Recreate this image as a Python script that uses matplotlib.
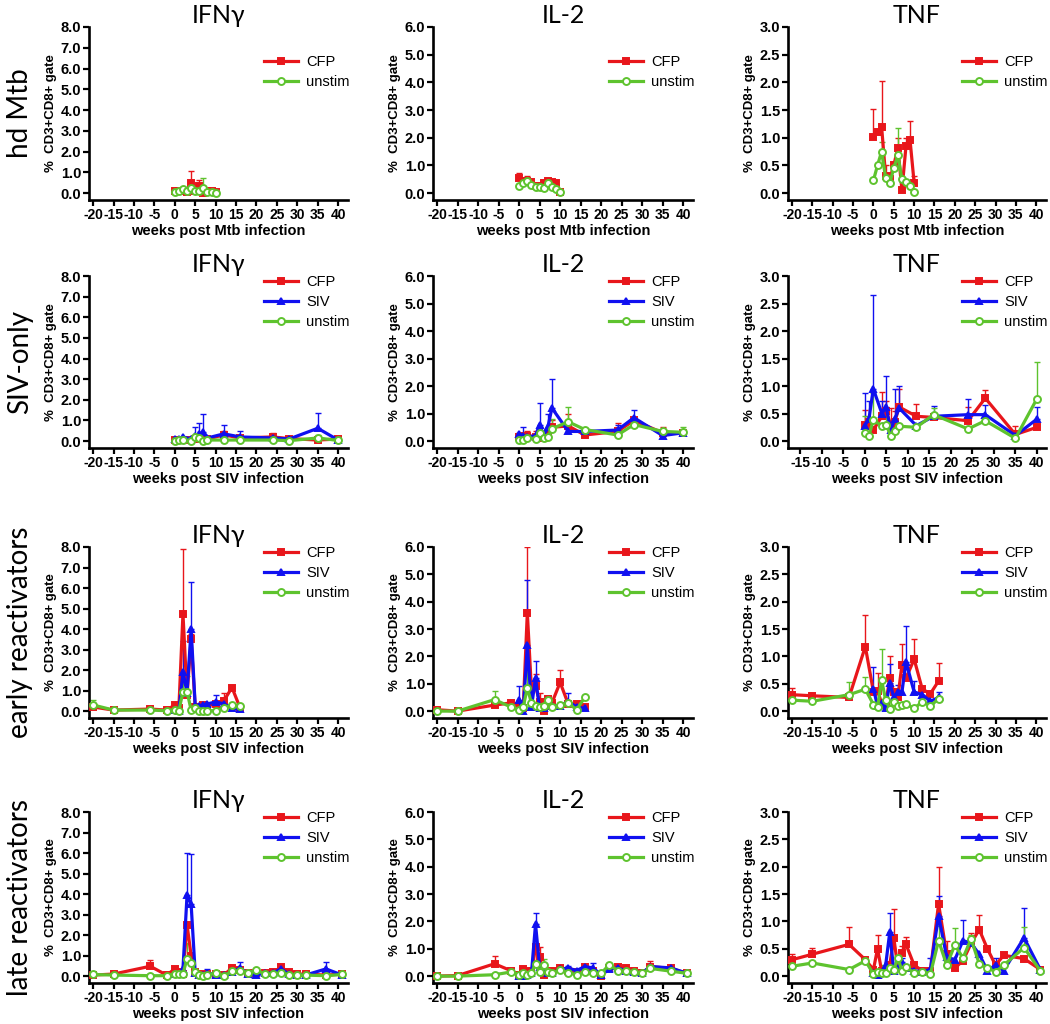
import numpy as np
import matplotlib
matplotlib.use('Agg')
import matplotlib.pyplot as plt

# ---- data ----
wk_mtb = [0, 1, 2, 3, 4, 5, 6, 7, 8, 9, 10]
wk_siv = [0, 1, 2, 4, 5, 6, 7, 8, 12, 16, 24, 28, 35, 40]
wk_early = [-20, -15, -6, -2, 0, 1, 2, 3, 4, 5, 6, 7, 8, 10, 12, 14, 16]
wk_early_siv = wk_early[4:]
wk_late = [-20, -15, -6, -2, 0, 1, 2, 3, 4, 5, 6, 7, 8, 10, 12, 14, 16, 18, 20,
           22, 24, 26, 28, 30, 32, 37, 41]
wk_late_siv = wk_late[4:]

# hd Mtb
hd_ifng_cfp = [0.1, 0.1, 0.1, 0.05, 0.5, 0.1, 0.35, 0.0, 0.1, 0.1, 0.05]
hd_ifng_cfp_sem = [0.05, 0, 0.05, 0, 0.55, 0, 0.3, 0, 0.05, 0, 0]
hd_ifng_uns = [0.03, 0.08, 0.2, 0.08, 0.25, 0.1, 0.1, 0.25, 0.05, 0.05, 0.02]
hd_ifng_uns_sem = [0, 0, 0, 0, 0, 0, 0.1, 0.47, 0, 0, 0]
hd_il2_cfp = [0.55, 0.45, 0.45, 0.4, 0.25, 0.25, 0.35, 0.45, 0.4, 0.38, 0.05]
hd_il2_cfp_sem = [0.17, 0, 0.15, 0, 0, 0, 0, 0, 0, 0, 0]
hd_il2_uns = [0.25, 0.35, 0.45, 0.3, 0.22, 0.22, 0.18, 0.35, 0.2, 0.15, 0.02]
hd_il2_uns_sem = [0, 0, 0.1, 0, 0, 0, 0, 0.2, 0, 0, 0]
hd_tnf_cfp = [1.02, 1.1, 1.2, 0.3, 0.25, 0.5, 0.82, 0.05, 0.85, 0.95, 0.18]
hd_tnf_cfp_sem = [0.5, 0, 0.82, 0.2, 0, 0, 0.18, 0, 0.15, 0.35, 0.12]
hd_tnf_uns = [0.23, 0.5, 0.75, 0.27, 0.18, 0.45, 0.68, 0.25, 0.2, 0.12, 0.02]
hd_tnf_uns_sem = [0, 0, 0.17, 0, 0, 0, 0.5, 0, 0, 0, 0]

# SIV-only
so_ifng_cfp = [0.05, 0.05, 0.05, 0.05, 0.1, 0.1, 0.1, 0.1, 0.3, 0.15, 0.2, 0.12, 0.05, 0.1]
so_ifng_cfp_sem = [0.13, 0, 0.1, 0, 0, 0, 0, 0, 0.2, 0, 0.18, 0.08, 0, 0.08]
so_ifng_siv = [0.1, 0.1, 0.2, 0.1, 0.25, 0.35, 0.45, 0.15, 0.35, 0.2, 0.15, 0.1, 0.62, 0.05]
so_ifng_siv_sem = [0, 0, 0, 0, 0.45, 0.53, 0.85, 0, 0.43, 0.28, 0, 0, 0.76, 0]
so_ifng_uns = [0.02, 0.05, 0.03, 0.0, 0.2, 0.15, 0.02, 0.05, 0.05, 0.05, 0.05, 0.02, 0.15, 0.03]
so_ifng_uns_sem = [0, 0, 0, 0, 0, 0, 0, 0, 0, 0, 0, 0, 0.15, 0]
so_il2_cfp = [0.15, 0.2, 0.2, 0.15, 0.1, 0.1, 0.3, 0.5, 0.55, 0.22, 0.35, 0.75, 0.3, 0.28]
so_il2_cfp_sem = [0.15, 0, 0.15, 0.2, 0, 0, 0, 0.25, 0.42, 0, 0.3, 0, 0.2, 0]
so_il2_siv = [0.25, 0.2, 0.15, 0.2, 0.6, 0.2, 0.5, 1.2, 0.35, 0.35, 0.4, 0.85, 0.2, 0.3]
so_il2_siv_sem = [0.05, 0.32, 0, 0, 0.8, 0, 0.5, 1.05, 0, 0, 0.2, 0.27, 0, 0]
so_il2_uns = [0.05, 0.05, 0.12, 0.08, 0.3, 0.1, 0.15, 0.45, 0.7, 0.42, 0.22, 0.6, 0.35, 0.32]
so_il2_uns_sem = [0, 0, 0, 0, 0.2, 0, 0, 0.35, 0.55, 0, 0, 0, 0, 0.18]
so_tnf_cfp = [0.3, 0.35, 0.2, 0.45, 0.55, 0.3, 0.35, 0.62, 0.45, 0.43, 0.37, 0.78, 0.12, 0.25]
so_tnf_cfp_sem = [0.27, 0, 0, 0.45, 0.17, 0.3, 0.2, 0.33, 0.23, 0, 0.25, 0.15, 0.16, 0]
so_tnf_siv = [0.28, 0.4, 0.95, 0.5, 0.62, 0.2, 0.4, 0.6, 0.28, 0.45, 0.48, 0.48, 0.1, 0.4]
so_tnf_siv_sem = [0.59, 0.32, 1.7, 0.22, 0.56, 0, 0.55, 0.4, 0, 0.18, 0.28, 0.18, 0, 0.22]
so_tnf_uns = [0.15, 0.1, 0.38, 0.28, 0.3, 0.1, 0.18, 0.27, 0.25, 0.48, 0.22, 0.37, 0.05, 0.77]
so_tnf_uns_sem = [0.3, 0, 0.5, 0, 0.25, 0, 0, 0, 0, 0.12, 0, 0, 0, 0.66]

# early reactivators
er_ifng_cfp = [0.2, 0.05, 0.1, 0.05, 0.3, 0.15, 4.75, 0.8, 3.5, 0.2, 0.2, 0.3, 0.25, 0.35, 0.5, 1.15, 0.15]
er_ifng_cfp_sem = [0, 0, 0, 0, 0, 0, 3.15, 0, 0.25, 0, 0, 0, 0, 0, 0.4, 0, 0]
er_ifng_siv = [0.05, 0.0, 1.9, 0.9, 4.0, 0.25, 0.25, 0.3, 0.35, 0.45, 0.35, 0.15, 0.1]
er_ifng_siv_sem = [0, 0, 1.5, 0, 2.3, 0, 0, 0, 0, 0.35, 0.3, 0, 0]
er_ifng_uns = [0.3, 0.05, 0.05, 0.02, 0.05, 0.02, 0.95, 0.95, 0.05, 0.15, 0.02, 0.02, 0.02, 0.02, 0.15, 0.3, 0.25]
er_ifng_uns_sem = [0.25, 0, 0, 0, 0, 0, 0.4, 0.75, 0, 0, 0, 0, 0, 0, 0, 0, 0]
er_il2_cfp = [0.05, 0.0, 0.22, 0.3, 0.2, 0.1, 3.6, 0.8, 0.9, 0.35, 0.0, 0.45, 0.3, 1.05, 0.25, 0.25, 0.15]
er_il2_cfp_sem = [0, 0, 0, 0, 0, 0, 2.4, 0, 0.45, 0.33, 0, 0, 0, 0.45, 0, 0, 0]
er_il2_siv = [0.4, 0.0, 2.4, 0.15, 1.2, 0.1, 0.1, 0.4, 0.2, 0.2, 0.35, 0.15, 0.1]
er_il2_siv_sem = [0.5, 0, 2.4, 0, 0.65, 0, 0, 0, 0, 0, 0.3, 0, 0]
er_il2_uns = [0.0, 0.0, 0.42, 0.15, 0.05, 0.15, 0.85, 0.3, 0.2, 0.15, 0.2, 0.4, 0.15, 0.22, 0.3, 0.05, 0.5]
er_il2_uns_sem = [0, 0, 0.33, 0, 0, 0, 0.7, 0, 0, 0, 0, 0.1, 0, 0, 0, 0, 0]
er_tnf_cfp = [0.3, 0.28, 0.25, 1.18, 0.35, 0.37, 0.15, 0.12, 0.6, 0.35, 0.25, 0.85, 0.6, 0.95, 0.4, 0.32, 0.55]
er_tnf_cfp_sem = [0.13, 0.05, 0, 0.57, 0, 0.33, 0, 0, 0.4, 0, 0, 0.38, 0, 0.37, 0, 0, 0.33]
er_tnf_siv = [0.4, 0.1, 0.15, 0.05, 0.52, 0.25, 0.35, 0.35, 0.9, 0.35, 0.3, 0.18, 0.25]
er_tnf_siv_sem = [0.4, 0, 0, 0, 0.34, 0, 0.13, 0, 0.65, 0.2, 0.13, 0, 0.1]
er_tnf_uns = [0.2, 0.18, 0.3, 0.4, 0.12, 0.07, 0.57, 0.2, 0.04, 0.17, 0.1, 0.12, 0.13, 0.05, 0.17, 0.1, 0.22]
er_tnf_uns_sem = [0, 0, 0.23, 0.22, 0, 0, 0.56, 0, 0, 0, 0, 0, 0, 0, 0, 0, 0]

# late reactivators
lr_ifng_cfp = [0.05, 0.1, 0.48, 0.05, 0.35, 0.2, 0.1, 2.5, 1.0, 0.2, 0.1, 0.05, 0.1, 0.1,
               0.05, 0.4, 0.3, 0.15, 0.15, 0.15, 0.2, 0.42, 0.2, 0.1, 0.1, 0.05, 0.1]
lr_ifng_cfp_sem = [0, 0, 0.3, 0, 0, 0, 0, 0, 0, 0, 0, 0, 0, 0,
                   0, 0.15, 0, 0, 0, 0, 0, 0, 0, 0, 0, 0, 0]
lr_ifng_siv = [0.1, 0.1, 0.35, 3.95, 3.5, 0.15, 0.05, 0.05, 0.15, 0.05, 0.05, 0.2,
               0.4, 0.1, 0.05, 0.15, 0.15, 0.35, 0.1, 0.05, 0.05, 0.35, 0.05]
lr_ifng_siv_sem = [0, 0, 0, 2.05, 2.45, 0, 0, 0, 0.2, 0, 0, 0,
                   0.28, 0, 0, 0, 0, 0, 0, 0, 0, 0.35, 0]
lr_ifng_uns = [0.08, 0.05, 0.02, 0.02, 0.1, 0.1, 0.12, 0.85, 0.65, 0.2, 0.05, 0.02, 0.05, 0.15,
               0.0, 0.25, 0.25, 0.15, 0.3, 0.1, 0.1, 0.15, 0.05, 0.05, 0.05, 0.02, 0.08]
lr_ifng_uns_sem = [0, 0, 0, 0, 0, 0, 0, 0.75, 0.5, 0, 0, 0, 0, 0,
                   0, 0, 0, 0, 0, 0, 0, 0, 0, 0, 0, 0, 0]
lr_il2_cfp = [0.0, 0.02, 0.45, 0.2, 0.05, 0.25, 0.2, 0.1, 1.05, 0.7, 0.05, 0.1, 0.2, 0.3,
              0.2, 0.15, 0.35, 0.2, 0.0, 0.3, 0.35, 0.28, 0.2, 0.1, 0.35, 0.28, 0.1]
lr_il2_cfp_sem = [0, 0, 0.27, 0, 0, 0, 0, 0, 0, 0.38, 0, 0, 0, 0,
                  0, 0, 0, 0, 0, 0, 0, 0, 0, 0, 0.2, 0, 0]
lr_il2_siv = [0.0, 0.0, 0.05, 0.1, 1.9, 0.35, 0.3, 0.1, 0.1, 0.25, 0.3, 0.2,
              0.35, 0.3, 0.05, 0.25, 0.3, 0.2, 0.15, 0.12, 0.35, 0.3, 0.1]
lr_il2_siv_sem = [0, 0, 0, 0, 0.42, 0, 0, 0, 0, 0, 0.08, 0,
                  0, 0.18, 0, 0, 0, 0, 0, 0, 0, 0, 0]
lr_il2_uns = [0.0, 0.0, 0.05, 0.15, 0.05, 0.1, 0.05, 0.12, 0.45, 0.15, 0.42, 0.15, 0.1, 0.22,
              0.12, 0.05, 0.15, 0.1, 0.1, 0.42, 0.2, 0.18, 0.15, 0.1, 0.28, 0.18, 0.1]
lr_il2_uns_sem = [0, 0, 0, 0, 0, 0, 0, 0, 0.15, 0, 0.2, 0, 0, 0,
                  0, 0, 0, 0, 0, 0, 0, 0, 0, 0, 0, 0, 0]
lr_tnf_cfp = [0.3, 0.4, 0.58, 0.3, 0.12, 0.5, 0.1, 0.1, 0.2, 0.7, 0.15, 0.42, 0.58, 0.2,
              0.1, 0.1, 1.32, 0.4, 0.15, 0.28, 0.6, 0.85, 0.5, 0.2, 0.38, 0.32, 0.12]
lr_tnf_cfp_sem = [0.1, 0.12, 0.32, 0, 0, 0.25, 0, 0, 0, 0.53, 0, 0.13, 0.14, 0,
                  0, 0, 0.68, 0.25, 0, 0, 0.18, 0.27, 0, 0, 0, 0, 0]
lr_tnf_siv = [0.05, 0.02, 0.05, 0.2, 0.8, 0.1, 0.15, 0.25, 0.15, 0.1, 0.08, 0.12,
              1.1, 0.35, 0.3, 0.65, 0.6, 0.4, 0.1, 0.2, 0.1, 0.7, 0.12]
lr_tnf_siv_sem = [0, 0, 0, 0, 0.35, 0, 0, 0.08, 0, 0, 0, 0.21,
                  0.37, 0, 0, 0.37, 0, 0, 0, 0.13, 0, 0.55, 0]
lr_tnf_uns = [0.18, 0.24, 0.12, 0.28, 0.04, 0.07, 0.05, 0.06, 0.15, 0.12, 0.33, 0.1, 0.16, 0.06,
              0.08, 0.04, 0.65, 0.2, 0.57, 0.33, 0.68, 0.22, 0.15, 0.08, 0.2, 0.52, 0.1]
lr_tnf_uns_sem = [0, 0, 0, 0, 0, 0, 0.15, 0, 0, 0, 0, 0, 0, 0,
                  0, 0, 0.27, 0, 0.31, 0, 0.07, 0, 0, 0, 0, 0.38, 0]

row_names = ['hd Mtb', 'SIV-only', 'early reactivators', 'late reactivators']
col_titles = ['IFN\u03b3', 'IL-2', 'TNF']
col_ymax = [8.0, 6.0, 3.0]
col_ystep = [1.0, 1.0, 0.5]
xlabels = ['weeks post Mtb infection', 'weeks post SIV infection',
           'weeks post SIV infection', 'weeks post SIV infection']

# (x_cfp, cfp, sem, x_siv, siv, sem, x_uns, uns, sem)
panels = [
    [(wk_mtb, hd_ifng_cfp, hd_ifng_cfp_sem, None, None, None, wk_mtb, hd_ifng_uns, hd_ifng_uns_sem),
     (wk_mtb, hd_il2_cfp, hd_il2_cfp_sem, None, None, None, wk_mtb, hd_il2_uns, hd_il2_uns_sem),
     (wk_mtb, hd_tnf_cfp, hd_tnf_cfp_sem, None, None, None, wk_mtb, hd_tnf_uns, hd_tnf_uns_sem)],
    [(wk_siv, so_ifng_cfp, so_ifng_cfp_sem, wk_siv, so_ifng_siv, so_ifng_siv_sem, wk_siv, so_ifng_uns, so_ifng_uns_sem),
     (wk_siv, so_il2_cfp, so_il2_cfp_sem, wk_siv, so_il2_siv, so_il2_siv_sem, wk_siv, so_il2_uns, so_il2_uns_sem),
     (wk_siv, so_tnf_cfp, so_tnf_cfp_sem, wk_siv, so_tnf_siv, so_tnf_siv_sem, wk_siv, so_tnf_uns, so_tnf_uns_sem)],
    [(wk_early, er_ifng_cfp, er_ifng_cfp_sem, wk_early_siv, er_ifng_siv, er_ifng_siv_sem, wk_early, er_ifng_uns, er_ifng_uns_sem),
     (wk_early, er_il2_cfp, er_il2_cfp_sem, wk_early_siv, er_il2_siv, er_il2_siv_sem, wk_early, er_il2_uns, er_il2_uns_sem),
     (wk_early, er_tnf_cfp, er_tnf_cfp_sem, wk_early_siv, er_tnf_siv, er_tnf_siv_sem, wk_early, er_tnf_uns, er_tnf_uns_sem)],
    [(wk_late, lr_ifng_cfp, lr_ifng_cfp_sem, wk_late_siv, lr_ifng_siv, lr_ifng_siv_sem, wk_late, lr_ifng_uns, lr_ifng_uns_sem),
     (wk_late, lr_il2_cfp, lr_il2_cfp_sem, wk_late_siv, lr_il2_siv, lr_il2_siv_sem, wk_late, lr_il2_uns, lr_il2_uns_sem),
     (wk_late, lr_tnf_cfp, lr_tnf_cfp_sem, wk_late_siv, lr_tnf_siv, lr_tnf_siv_sem, wk_late, lr_tnf_uns, lr_tnf_uns_sem)],
]

RED = '#e8161b'
BLUE = '#1010f0'
GREEN = '#5ec32e'

# layout in pixels (top, bottom) per row, (left, right) per column
W, H = 1050, 1024
row_px = [(27, 200), (276, 448), (547, 718), (812, 983)]
col_px = [(89, 348), (433, 693), (788, 1046)]

fig = plt.figure(figsize=(W / 100, H / 100), dpi=100)
ytickfont = dict(family='Liberation Sans', weight='bold', size=10.5)
xtickfont = dict(family='Liberation Sans', weight='bold', size=10)


def draw_series(ax, x, y, sem, color, marker, label, mfc, ms):
    x = np.asarray(x, float)
    y = np.asarray(y, float)
    sem = np.asarray(sem, float)
    m = sem > 0
    if m.any():
        ax.errorbar(x[m], y[m], yerr=[np.zeros(m.sum()), sem[m]], fmt='none',
                    ecolor=color, elinewidth=1.0, capsize=2.5, capthick=1.0, zorder=2)
    ax.plot(x, y, color=color, lw=2.3, marker=marker, ms=ms, mfc=mfc,
            mec=color, mew=1.4, label=label, zorder=3)


for r in range(4):
    top, bot = row_px[r]
    for c in range(3):
        left, right = col_px[c]
        ax = fig.add_axes([left / W, 1 - bot / H, (right - left) / W, (bot - top) / H])
        xc, yc, ec, xs, ys, es, xu, yu, eu = panels[r][c]
        draw_series(ax, xc, yc, ec, RED, 's', 'CFP', RED, 5)
        if ys is not None:
            draw_series(ax, xs, ys, es, BLUE, '^', 'SIV', BLUE, 4.5)
        draw_series(ax, xu, yu, eu, GREEN, 'o', 'unstim', 'white', 5)

        ymax = col_ymax[c]
        ax.set_ylim(-0.042 * ymax, ymax)
        yt = np.arange(0, ymax + 1e-9, col_ystep[c])
        ax.set_yticks(yt)
        ax.set_yticklabels(['%.1f' % v for v in yt], **ytickfont)
        if r == 1 and c == 2:
            ax.set_xlim(-17.8, 42.1)
            xt = np.arange(-15, 41, 5)
        else:
            ax.set_xlim(-21, 42.4)
            xt = np.arange(-20, 41, 5)
        ax.set_xticks(xt)
        ax.set_xticklabels([str(v) for v in xt], **xtickfont)

        for s in ['top', 'right']:
            ax.spines[s].set_visible(False)
        for s in ['left', 'bottom']:
            ax.spines[s].set_linewidth(1.9)
        ax.tick_params(axis='both', direction='out', length=4, width=1.6, pad=1.5)

        ax.set_title(col_titles[c], family=['Lato', 'DejaVu Sans'], fontsize=18, pad=3)
        ax.set_ylabel('%  CD3+CD8+ gate', family='Liberation Sans', weight='bold',
                      fontsize=9.5, labelpad=3)
        ax.set_xlabel(xlabels[r], family='Liberation Sans', weight='bold',
                      fontsize=10.5, labelpad=2)

        anchor_y = 0.87 if r == 0 else 1.04
        ax.legend(loc='upper right', bbox_to_anchor=(1.03, anchor_y), frameon=False,
                  prop=dict(family='Liberation Sans', size=10.5), handlelength=2.3,
                  handletextpad=0.6, labelspacing=0.4, borderaxespad=0)

    fig.text(20 / W, 1 - ((top + bot) / 2) / H, row_names[r], rotation=90,
             ha='center', va='center', family='Lato', fontsize=20)

fig.savefig('out.png', dpi=100)
plt.close(fig)
